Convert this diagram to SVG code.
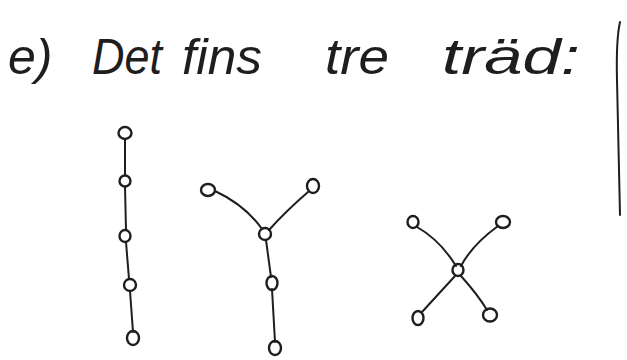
<svg xmlns="http://www.w3.org/2000/svg" width="627" height="360" viewBox="0 0 627 360">
<style>
.n{fill:none;stroke:#1e1e1e;stroke-width:2.4}
.e{fill:none;stroke:#1e1e1e;stroke-width:2;stroke-linecap:round}
.t{font-family:"Liberation Sans","DejaVu Sans",sans-serif;font-size:50px;fill:#1e1e1e;font-style:italic}
</style>
<rect width="627" height="360" fill="#fff"/>
<text class="t" x="8" y="74">e)</text>
<text class="t" x="92" y="74" textLength="70" lengthAdjust="spacingAndGlyphs">Det</text>
<text class="t" x="182" y="74" textLength="80" lengthAdjust="spacingAndGlyphs">fins</text>
<text class="t" x="325" y="74" textLength="64" lengthAdjust="spacingAndGlyphs">tre</text>
<text class="t" x="442" y="74" textLength="138" lengthAdjust="spacingAndGlyphs">träd:</text>
<path class="e" d="M620 22 Q616 40 617 80 L620 215"/>
<g id="connectors">
<path class="e" d="M125 139 L125 175"/>
<path class="e" d="M125 187 L126 230"/>
<path class="e" d="M126 242 L129 279"/>
<path class="e" d="M130 291 L133 332"/>
<path class="e" d="M215 191 Q245 205 262 229"/>
<path class="e" d="M308 192 Q285 212 269 230"/>
<path class="e" d="M266 240 L271 277"/>
<path class="e" d="M272 289 L275 342"/>
<path class="e" d="M417 227 Q440 240 456 266"/>
<path class="e" d="M498 226 Q472 245 461 266"/>
<path class="e" d="M455 276 L422 312"/>
<path class="e" d="M461 276 Q478 295 487 310"/>
</g>
<g id="a1"><ellipse class="n" cx="125" cy="133" rx="6.5" ry="6"/></g>
<g id="a2"><ellipse class="n" cx="125" cy="181" rx="5.5" ry="5.5"/></g>
<g id="a3"><ellipse class="n" cx="125" cy="236" rx="5.5" ry="6"/></g>
<g id="a4"><ellipse class="n" cx="130" cy="285" rx="6" ry="6"/></g>
<g id="a5"><ellipse class="n" cx="133" cy="338" rx="6" ry="7"/></g>
<g id="b1"><ellipse class="n" cx="208" cy="190" rx="7" ry="6"/></g>
<g id="b2"><ellipse class="n" cx="313" cy="186" rx="6" ry="7"/></g>
<g id="b3"><ellipse class="n" cx="265" cy="234" rx="6" ry="6"/></g>
<g id="b4"><ellipse class="n" cx="272" cy="283" rx="5.5" ry="7"/></g>
<g id="b5"><ellipse class="n" cx="275" cy="348" rx="6" ry="7"/></g>
<g id="c1"><ellipse class="n" cx="413" cy="222" rx="5.5" ry="6"/></g>
<g id="c2"><ellipse class="n" cx="503" cy="222" rx="7" ry="6"/></g>
<g id="c3"><ellipse class="n" cx="458" cy="270" rx="5.5" ry="6"/></g>
<g id="c4"><ellipse class="n" cx="418" cy="318" rx="5.5" ry="7"/></g>
<g id="c5"><ellipse class="n" cx="490" cy="315" rx="7" ry="6.5"/></g>
</svg>
